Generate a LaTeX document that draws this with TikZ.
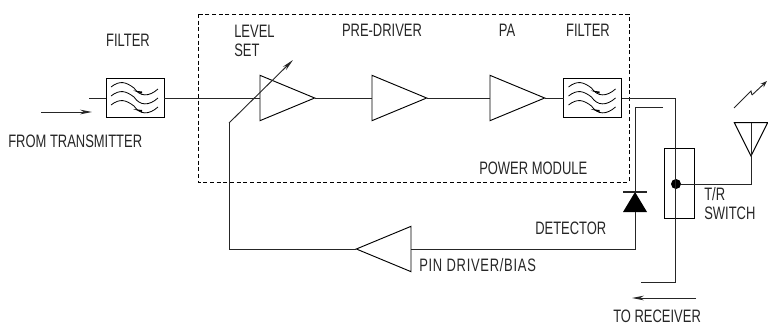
\documentclass[tikz,border=0pt]{standalone}
\usepackage{fontspec}
\setmainfont[FakeStretch=0.72]{Liberation Sans}
\usepackage{tikz}
\usetikzlibrary{shapes.geometric, arrows.meta, positioning, calc}

\begin{document}
\begin{tikzpicture}[
  x=0.75pt, y=-0.75pt,
  wire/.style={line width=0.7pt, black!85},
  arrow/.style={wire, -{Stealth[length=9pt, width=3.5pt]}},
  filt/.style={rectangle, draw, line width=0.7pt, minimum width=43.5pt, minimum height=29pt, inner sep=0pt, outer sep=0pt},
  amp/.style={isosceles triangle, isosceles triangle stretches, draw, line width=0.7pt, minimum height=41pt, minimum width=34pt, inner sep=0pt, outer sep=0pt},
  lab/.style={font=\fontsize{13.5}{13.5}\selectfont, inner sep=0pt, text=black!85},
  waves/.pic={
    \foreach \dy in {-9,0,9}
      \draw[line width=0.6pt] (-24,\dy-2) .. controls (-15,\dy-9) and (-9,\dy-7) .. (-1,\dy-1)
        .. controls (5,\dy+8) and (14,\dy+8) .. (23,\dy);
    \fill (-2,-7.5) -- (7,-6.5) -- (7,-4.5) -- cycle;
    \fill (-2,11) -- (7,12) -- (7,14) -- cycle;
  }
]
\useasboundingbox (0,0) rectangle (768,325);

% power module outline
\draw[dashed, line width=0.6pt, dash pattern=on 3pt off 2pt] (198,14) rectangle (629,182);

% forward path
\node[filt] (filtin) at (135,98) {};
\node[amp, anchor=lower side] (level) at (260,98) {};
\node[amp, anchor=lower side] (pre) at (372,98) {};
\node[amp, anchor=lower side] (pa) at (490,98) {};
\node[filt] (filtout) at (592.5,98) {};
\pic at (filtin) {waves};
\pic at (filtout) {waves};

% switch and antenna
\node[rectangle, draw, line width=0.6pt, minimum width=23pt, minimum height=53pt, inner sep=0pt] (switch) at (679.5,183.5) {};
\node[circle, fill=black, minimum size=7.5pt, inner sep=0pt] (pole) at (676,184) {};
\node[isosceles triangle, isosceles triangle stretches, shape border rotate=-90, draw, line width=0.7pt, minimum width=25pt, minimum height=25pt, inner sep=0pt, outer sep=0pt, anchor=apex] (ant) at (751,156) {};

% detector and feedback
\node[isosceles triangle, isosceles triangle stretches, shape border rotate=90, fill=black, minimum width=18pt, minimum height=15pt, inner sep=0pt, outer sep=0pt, anchor=apex] (diode) at (635,192) {};
\node[amp, shape border rotate=180, anchor=lower side] (pin) at (411,249) {};

\coordinate (leadin) at (89,98);
\coordinate (outbend) at (675,98);
\coordinate (rxend) at (641,282);
\coordinate (rxbend) at (675,282);
\coordinate (cplend) at (663,107);
\coordinate (cplbend) at (635,107);
\coordinate (barl) at (623,192);
\coordinate (barr) at (647,192);
\coordinate (fbbend) at (635,249);
\coordinate (fbcorner) at (229,249);
\coordinate (fbup) at (229,123);
\coordinate (settip) at (293,60);

\draw[wire] (leadin) -- (filtin);
\draw[wire] (filtin) -- (level.lower side);
\draw[wire] (level.apex) -- (pre.lower side);
\draw[wire] (pre.apex) -- (pa.lower side);
\draw[wire] (pa.apex) -- (filtout);
\draw[wire] (filtout) -- (outbend) -- (rxbend) -- (rxend);
\draw[wire] (pole) -| (ant.apex);
\draw[wire] (ant.lower side) -- (ant.apex);
\draw[wire] (cplend) -- (cplbend) -- (diode.apex);
\draw[wire, line width=0.9pt] (barl) -- (barr);
\draw[wire] (diode.lower side) -- (fbbend) -- (pin.lower side);
\draw[wire] (pin.apex) -- (fbcorner) -- (fbup);
\draw[arrow] (fbup) -- (settip);

% signal direction and radiation
\coordinate (txa) at (41,112);
\coordinate (txb) at (92,112);
\coordinate (rxa) at (696,298);
\coordinate (rxb) at (632,298);
\coordinate (rada) at (734,108);
\coordinate (radb) at (751,91);
\coordinate (radc) at (752,95);
\coordinate (radd) at (767,81);
\draw[arrow] (txa) -- (txb);
\draw[arrow] (rxa) -- (rxb);
\draw[wire] (rada) -- (radb) -- (radc);
\draw[arrow, -{Stealth[length=5pt, width=3.5pt]}] (radc) -- (radd);

% labels
\node[lab] (lfiltin) at (128,40) {FILTER};
\node[lab, anchor=west] (ltx) at (8,141) {FROM TRANSMITTER};
\node[lab, anchor=west] (lset) at (234,31) {LEVEL};
\node[lab, anchor=west] (lset2) at (234,50) {SET};
\node[lab] (lpre) at (382,30) {PRE-DRIVER};
\node[lab] (lpa) at (507,30) {PA};
\node[lab] (lfiltout) at (588,30) {FILTER};
\node[lab, anchor=west] (lmod) at (479,168) {POWER MODULE};
\node[lab, anchor=west] (ldet) at (535,228) {DETECTOR};
\node[lab, anchor=west] (lpin) at (419,265) {\addfontfeature{LetterSpace=4}PIN DRIVER/BIAS};
\node[lab, anchor=west] (ltr) at (704,194) {T/R};
\node[lab, anchor=west] (lsw) at (704,213) {SWITCH};
\node[lab, anchor=west] (lrx) at (613,316) {TO RECEIVER};
\end{tikzpicture}
\end{document}
